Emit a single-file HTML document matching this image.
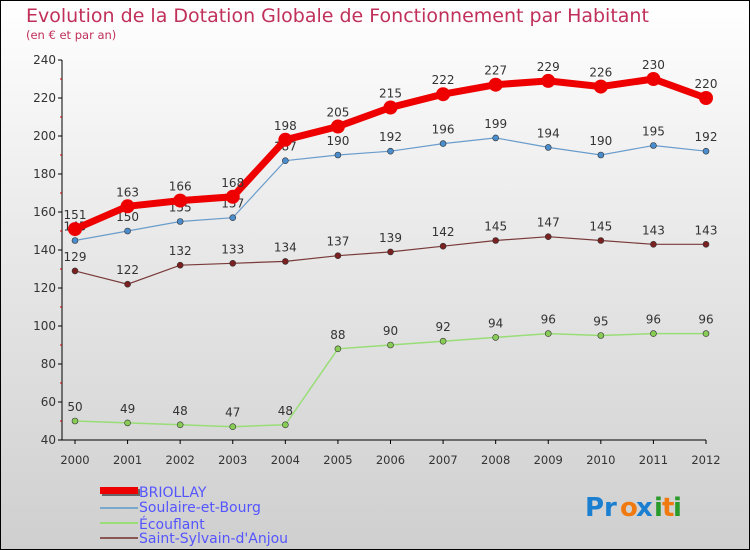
<!DOCTYPE html>
<html><head><meta charset="utf-8"><style>
body{margin:0}
#c{width:750px;height:550px;position:relative;overflow:hidden;box-sizing:border-box;border:1px solid #000;background:linear-gradient(#fff,#e8e8e8 45%,#cfcfcf);font-family:"DejaVu Sans","Liberation Sans",sans-serif}
</style></head><body>
<div id="c">
<svg id="s" width="750" height="550" style="position:absolute;left:-1px;top:-1px">
<text x="26" y="22" font-size="19" fill="#c0305a">Evolution de la Dotation Globale de Fonctionnement par Habitant</text>
<text x="26" y="39" font-size="11.5" fill="#c0305a">(en € et par an)</text>
<g id="axes"></g><g id="series"></g>
<g>
<rect x="102" y="489" width="38" height="7" fill="#666"/><rect x="100" y="487" width="38" height="7" fill="#e00"/>
<line x1="100" y1="508" x2="138" y2="508" stroke="#7aa8cc" stroke-width="2"/>
<line x1="100" y1="523" x2="138" y2="523" stroke="#99dd77" stroke-width="2"/>
<line x1="100" y1="538" x2="138" y2="538" stroke="#8a5555" stroke-width="2"/>
<g font-size="14" fill="#5555ff">
<text x="139" y="497">BRIOLLAY</text>
<text x="139" y="512">Soulaire-et-Bourg</text>
<text x="139" y="529">Écouflant</text>
<text x="139" y="543">Saint-Sylvain-d'Anjou</text>
</g></g>
<g font-size="26" font-weight="bold">
<text x="585" y="516" fill="#1a7fd0">Pr</text><text x="620" y="516" fill="#f07a10">o</text><text x="636" y="516" fill="#1a7fd0">x</text><text x="654" y="516" fill="#2a9a2a">i</text><text x="662" y="516" fill="#f07a10">t</text><text x="673" y="516" fill="#2a9a2a">i</text>
</g>
</svg>
</div>
<script>
const years=[2000,2001,2002,2003,2004,2005,2006,2007,2008,2009,2010,2011,2012];
const yTicks=[40,60,80,100,120,140,160,180,200,220,240];
const briollay=[151,163,166,168,198,205,215,222,227,229,226,230,220];
const soulaire=[145,150,155,157,187,190,192,196,199,194,190,195,192];
const ecouflant=[50,49,48,47,48,88,90,92,94,96,95,96,96];
const saintSylvain=[129,122,132,133,134,137,139,142,145,147,145,143,143];
const NS="http://www.w3.org/2000/svg";
const x=i=>75+i*(706-75)/(years.length-1);
const y=v=>440-(v-40)*(380/200);
function mk(t,a,p){const e=document.createElementNS(NS,t);for(const k in a)e.setAttribute(k,a[k]);p.appendChild(e);return e;}
const ax=document.getElementById('axes');
mk('line',{x1:62,y1:60,x2:62,y2:440,stroke:'#000'},ax);
mk('line',{x1:62,y1:440,x2:706,y2:440,stroke:'#000'},ax);
yTicks.forEach((v,i)=>{
 mk('line',{x1:58,y1:y(v),x2:62,y2:y(v),stroke:'#000'},ax);
 if(i<yTicks.length-1)mk('line',{x1:60,y1:y(v+10),x2:62,y2:y(v+10),stroke:'#c00'},ax);
 const t=mk('text',{x:56,y:y(v)+4,'text-anchor':'end','font-size':12,fill:'#333'},ax);t.textContent=v;
 
 
});
years.forEach((yr,i)=>{
 mk('line',{x1:x(i),y1:440,x2:x(i),y2:444,stroke:'#000'},ax);
 const t=mk('text',{x:x(i),y:464,'text-anchor':'middle','font-size':11.5,fill:'#333'},ax);t.textContent=yr;
 
 
});
const sg=document.getElementById('series');
function series(data,color,w,r,fill,name){
 const g=mk('g',{},sg);
 
 
 mk('polyline',{points:data.map((v,i)=>x(i)+','+y(v)).join(' '),fill:'none',stroke:color,'stroke-width':w},g);
 data.forEach((v,i)=>{
  const c=mk('circle',{cx:x(i),cy:y(v),r:r,fill:fill,stroke:'#333','stroke-width':r>5?0:0.6},g);
  
  
  const t=mk('text',{x:x(i),y:y(v)-10,'text-anchor':'middle','font-size':12,fill:'#333'},g);t.textContent=v;
  
  
 });
}
series(ecouflant,'#99dd77',1.5,3,'#88cc55','ecouflant-line');
series(saintSylvain,'#7a3a3a',1.2,3,'#7a2020','saint-sylvain-line');
series(soulaire,'#6a9ccc',1.2,3,'#4a8ccc','soulaire-line');
series(briollay,'#ee0000',7,7,'#ee0000','briollay-line');
</script>
</body></html>
